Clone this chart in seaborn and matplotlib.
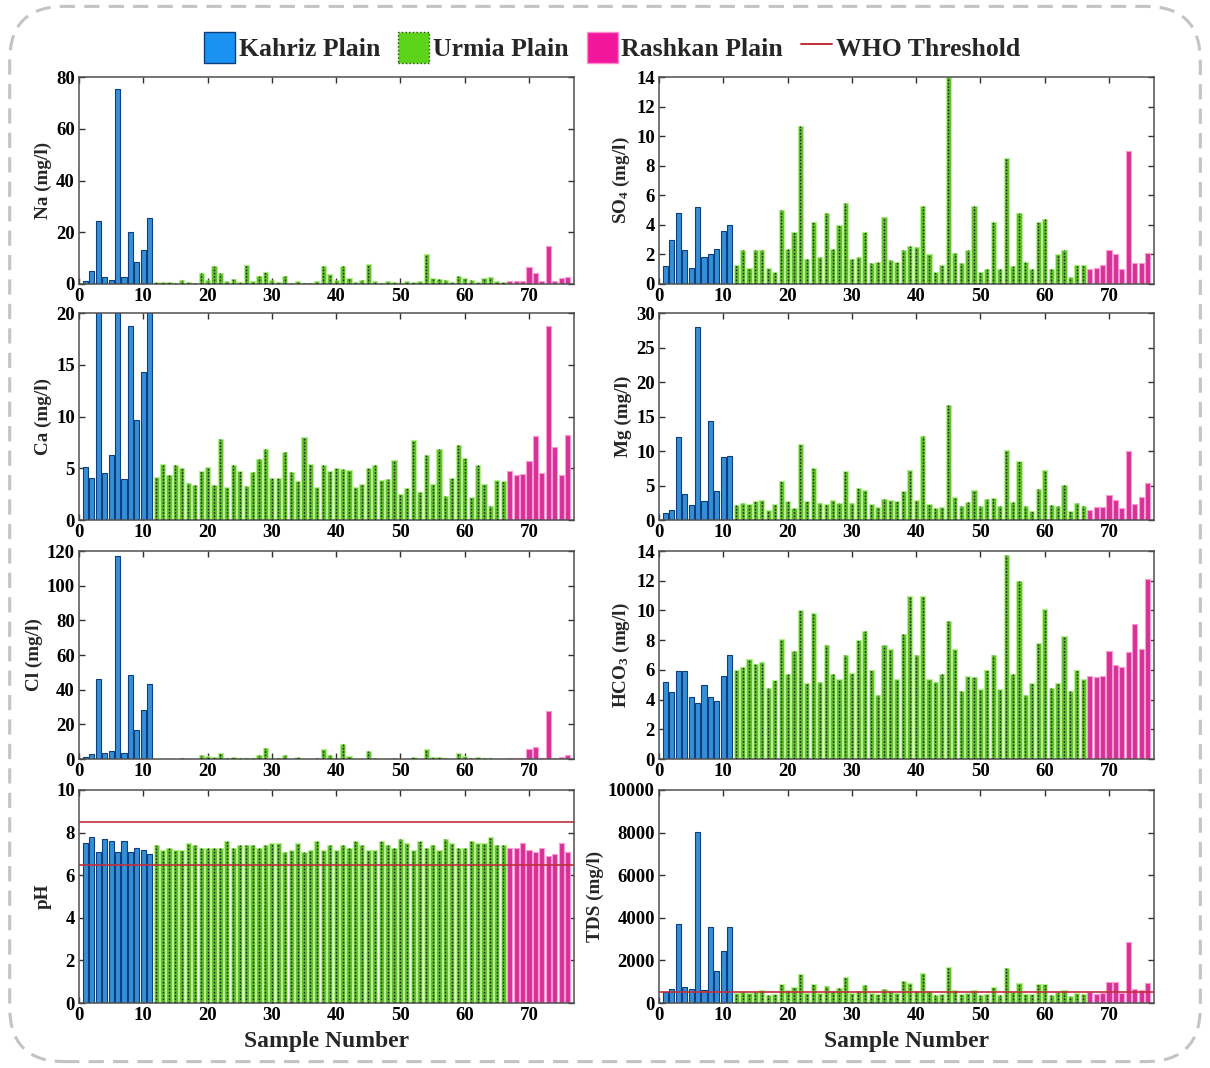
import matplotlib
matplotlib.use("Agg")
import matplotlib.pyplot as plt
import numpy as np
import pandas as pd
import seaborn as sns
from matplotlib.patches import Patch, FancyBboxPatch
from matplotlib.lines import Line2D

sns.set_style("ticks")
plt.rcParams["font.family"] = ["Liberation Serif", "DejaVu Serif"]
plt.rcParams["font.weight"] = "bold"
plt.rcParams["mathtext.fontset"] = "custom"
plt.rcParams["mathtext.rm"] = "Liberation Serif:bold"
plt.rcParams["mathtext.default"] = "rm"

# ---------------- data ----------------
samples = list(range(1, 77))
plain_names = ["Kahriz Plain", "Urmia Plain", "Rashkan Plain"]
plain_counts = [11, 55, 10]
plains = sum([[n] * c for n, c in zip(plain_names, plain_counts)], [])

na = [1.0, 5.0, 24.5, 2.8, 1.5, 75.5, 2.8, 20.0, 8.5, 13.2, 25.5,
      0.8, 0.8, 0.8, 0.5, 1.5, 0.8, 0.5, 4.3, 1.5, 7.0, 4.2, 1.0, 2.0, 0.6,
      7.5, 1.0, 3.2, 4.5, 1.5, 0.8, 3.2, 0.5, 1.0, 0.5, 0.5, 1.0, 7.0, 4.0,
      1.5, 6.8, 2.3, 0.8, 1.5, 7.7, 1.2, 0.3, 1.0, 0.8, 0.5, 1.0, 0.8, 1.3,
      11.5, 2.2, 2.0, 1.5, 0.8, 3.2, 2.3, 1.5, 0.8, 2.5, 2.6, 1.0, 0.8,
      1.3, 1.2, 1.2, 6.5, 4.3, 1.2, 14.5, 1.3, 2.3, 2.8]

so4 = [1.2, 3.0, 4.8, 2.3, 1.1, 5.2, 1.8, 2.0, 2.4, 3.6, 4.0,
       1.3, 2.3, 1.1, 2.3, 2.3, 1.1, 0.8, 5.0, 2.4, 3.5, 10.7, 1.7, 4.2, 1.8,
       4.8, 2.4, 4.0, 5.5, 1.7, 1.8, 3.5, 1.4, 1.5, 4.5, 1.6, 1.5, 2.3, 2.6,
       2.5, 5.3, 2.0, 0.8, 1.3, 14.0, 2.1, 1.4, 2.3, 5.3, 0.8, 1.0, 4.2, 1.0,
       8.5, 1.2, 4.8, 1.5, 1.0, 4.2, 4.4, 1.0, 2.0, 2.3, 0.5, 1.3, 1.3,
       1.0, 1.1, 1.3, 2.3, 2.0, 1.0, 9.0, 1.4, 1.4, 2.1]

ca = [5.1, 4.1, 30.0, 4.5, 6.3, 45.0, 4.0, 18.7, 9.7, 14.3, 25.0,
      4.2, 5.4, 4.3, 5.3, 5.0, 3.6, 3.4, 4.7, 5.1, 3.4, 7.8, 3.2, 5.3, 4.7,
      3.3, 4.6, 5.9, 6.9, 4.1, 4.1, 6.6, 4.6, 3.8, 8.0, 5.4, 3.2, 5.3, 4.7,
      5.0, 4.9, 4.8, 3.2, 3.5, 5.0, 5.3, 3.9, 4.0, 5.8, 2.5, 3.1, 7.7, 2.7,
      6.3, 3.5, 6.9, 2.3, 4.1, 7.2, 6.0, 2.2, 5.3, 3.5, 1.4, 3.9, 3.8,
      4.7, 4.3, 4.4, 5.7, 8.1, 4.5, 18.7, 7.1, 4.3, 8.2]

mg = [1.0, 1.4, 12.0, 3.8, 2.2, 28.0, 2.8, 14.3, 4.2, 9.2, 9.3,
      2.2, 2.5, 2.3, 2.7, 2.9, 1.5, 2.3, 5.6, 2.7, 1.7, 11.0, 2.7, 7.5, 2.4,
      2.3, 2.9, 2.4, 7.1, 2.4, 4.7, 4.4, 2.3, 1.9, 3.1, 2.9, 2.8, 4.2, 7.2,
      2.9, 12.2, 2.3, 1.8, 1.9, 16.6, 3.4, 2.1, 2.6, 4.4, 2.1, 3.1, 3.2, 2.1,
      10.1, 2.6, 8.5, 2.1, 1.3, 4.5, 7.2, 2.2, 2.1, 5.1, 1.3, 2.4, 2.0,
      1.4, 1.9, 1.9, 3.6, 2.9, 1.8, 10.0, 2.3, 3.4, 5.3]

cl = [1.0, 3.0, 46.0, 3.3, 4.7, 117.0, 3.2, 48.5, 16.5, 28.5, 43.5,
      0.2, 0.2, 0.2, 0.2, 0.8, 0.2, 0.2, 2.3, 1.8, 1.3, 3.3, 0.3, 1.2, 0.5,
      0.5, 0.5, 2.3, 6.5, 0.3, 0.3, 2.3, 0.2, 1.2, 0.2, 0.2, 0.3, 5.8, 2.3,
      0.8, 8.5, 1.8, 0.2, 0.2, 4.8, 0.4, 0.2, 0.2, 0.5, 0.2, 0.2, 1.3, 0.2,
      5.8, 1.3, 1.3, 0.3, 0.2, 3.3, 2.0, 0.3, 1.2, 0.6, 0.3, 0.2, 0.2,
      0.6, 0.5, 0.5, 6.0, 7.2, 0.5, 27.5, 0.4, 1.3, 2.2]

hco3 = [5.2, 4.5, 5.9, 5.9, 4.2, 3.8, 5.0, 4.2, 3.9, 5.6, 7.0,
        6.0, 6.2, 6.7, 6.4, 6.5, 4.8, 5.3, 8.1, 5.7, 7.3, 10.0, 5.1, 9.8, 5.2,
        7.7, 5.7, 5.4, 7.0, 5.8, 8.0, 8.6, 6.0, 4.3, 7.7, 7.4, 5.4, 8.4, 11.0,
        7.0, 11.0, 5.4, 5.2, 5.7, 9.3, 7.4, 4.6, 5.6, 5.5, 4.7, 6.0, 7.0, 4.7,
        13.7, 5.7, 12.0, 4.3, 5.1, 7.8, 10.1, 4.8, 5.1, 8.3, 4.6, 6.0, 5.4,
        5.6, 5.5, 5.6, 7.3, 6.3, 6.2, 7.2, 9.1, 7.4, 12.1]

ph = [7.5, 7.8, 7.1, 7.7, 7.6, 7.1, 7.6, 7.1, 7.3, 7.2, 7.0,
      7.4, 7.2, 7.3, 7.2, 7.2, 7.5, 7.4, 7.3, 7.3, 7.3, 7.3, 7.6, 7.3, 7.4,
      7.4, 7.4, 7.3, 7.4, 7.5, 7.5, 7.1, 7.2, 7.5, 7.1, 7.2, 7.6, 7.2, 7.4,
      7.2, 7.4, 7.3, 7.6, 7.4, 7.2, 7.2, 7.6, 7.4, 7.3, 7.7, 7.5, 7.2, 7.6,
      7.3, 7.4, 7.2, 7.7, 7.5, 7.3, 7.3, 7.6, 7.5, 7.5, 7.8, 7.4, 7.4,
      7.3, 7.3, 7.5, 7.2, 7.1, 7.3, 6.9, 7.0, 7.5, 7.1]

tds = [500, 680, 3700, 750, 650, 8050, 630, 3550, 1480, 2450, 3550,
       480, 530, 490, 510, 600, 370, 400, 880, 620, 770, 1370, 460, 900, 480,
       800, 540, 720, 1230, 450, 560, 850, 480, 440, 660, 540, 450, 1050, 960,
       560, 1400, 580, 370, 430, 1700, 600, 400, 470, 620, 370, 430, 760, 370,
       1650, 520, 950, 400, 400, 890, 870, 390, 520, 620, 350, 460, 420,
       500, 430, 470, 1000, 1000, 450, 2850, 680, 600, 950]

ph_limits = [6.5, 8.5]
tds_limit = [500]

x_ticks = [0, 10, 20, 30, 40, 50, 60, 70]

# ---------------- style ----------------
face = {"Kahriz Plain": "#1A92F2", "Urmia Plain": "#5CD41A", "Rashkan Plain": "#F2169C"}
edge = {"Kahriz Plain": "#0C3F80", "Urmia Plain": "#B4F28E", "Rashkan Plain": "#FF9AD2"}
who_color = "#C0303C"

fig = plt.figure(figsize=(12.1, 10.68), dpi=100)

# dashed rounded outer frame
frame = FancyBboxPatch((0.008, 0.006), 0.984, 0.988,
                       boxstyle="round,pad=0,rounding_size=0.045",
                       mutation_aspect=1210 / 1068,
                       transform=fig.transFigure, fill=False,
                       ec="#C4C4C4", lw=2.2, ls=(0, (5, 3)), zorder=0)
fig.patches.append(frame)

left_x = 79 / 1210
right_x = 659 / 1210
ax_w = 495 / 1210
rows = [(77, 284), (313, 520), (551, 759), (790, 1003)]

panels = [
    ("left", 0, na, "Na (mg/l)", (0, 80), [0, 20, 40, 60, 80], None),
    ("right", 0, so4, "SO$_4$ (mg/l)", (0, 14), list(range(0, 15, 2)), None),
    ("left", 1, ca, "Ca (mg/l)", (0, 20), [0, 5, 10, 15, 20], None),
    ("right", 1, mg, "Mg (mg/l)", (0, 30), [0, 5, 10, 15, 20, 25, 30], None),
    ("left", 2, cl, "Cl (mg/l)", (0, 120), [0, 20, 40, 60, 80, 100, 120], None),
    ("right", 2, hco3, "HCO$_3$ (mg/l)", (0, 14), list(range(0, 15, 2)), None),
    ("left", 3, ph, "pH", (0, 10), [0, 2, 4, 6, 8, 10], ph_limits),
    ("right", 3, tds, "TDS (mg/l)", (0, 10000), [0, 2000, 4000, 6000, 8000, 10000], tds_limit),
]

for col, r, vals, ylabel, ylim, yticks, who in panels:
    top, bot = rows[r]
    x0 = left_x if col == "left" else right_x
    ax = fig.add_axes([x0, 1 - bot / 1068, ax_w, (bot - top) / 1068])
    df = pd.DataFrame({"sample": samples, "value": vals, "plain": plains})
    sns.barplot(data=df, x="sample", y="value", hue="plain", hue_order=plain_names,
                palette=face, native_scale=True, dodge=False, width=0.8,
                errorbar=None, legend=False, ax=ax, zorder=2)
    for cont, name in zip(ax.containers, plain_names):
        for p in cont:
            p.set_edgecolor(edge[name])
            p.set_linewidth(0.8)
    # dotted center lines of Urmia bars
    g = df[df["plain"] == "Urmia Plain"]
    ax.vlines(g["sample"], 0, np.minimum(g["value"], ylim[1]), colors="#1a2a10",
              linestyles=(0, (1.2, 1.2)), linewidth=1.0, zorder=3)
    if who is not None:
        for w in who:
            ax.axhline(w, color=who_color, lw=1.2, zorder=4)
    ax.set_xlim(0, 77)
    ax.set_ylim(*ylim)
    ax.set_xticks(x_ticks)
    ax.set_xticklabels([str(t) for t in x_ticks])
    ax.set_yticks(yticks)
    ax.tick_params(direction="in", length=4, width=1, top=True, right=True,
                   labelsize=13.5, pad=3, colors="#303030", labelcolor="black")
    for lab in ax.get_xticklabels() + ax.get_yticklabels():
        lab.set_fontweight("bold")
    for s in ax.spines.values():
        s.set_color("#505050")
        s.set_linewidth(1.1)
    ax.set_ylabel(ylabel, fontsize=13.8, fontweight="bold", labelpad=3)
    if r == 3:
        ax.set_xlabel("Sample Number", fontsize=17, fontweight="bold", labelpad=5)
    else:
        ax.set_xlabel("")

handles = [
    Patch(fc=face["Kahriz Plain"], ec="#0A3E7C", lw=1.0),
    Patch(fc=face["Urmia Plain"], ec="#2a4a10", lw=1.0, ls=":"),
    Patch(fc=face["Rashkan Plain"], ec="#FF8CCB", lw=1.0),
    Line2D([], [], color=who_color, lw=1.4),
]
fig.legend(handles, ["Kahriz Plain", "Urmia Plain", "Rashkan Plain", "WHO Threshold"],
           loc="upper center", bbox_to_anchor=(0.506, 0.992), ncol=4, frameon=False,
           prop={"family": "Liberation Serif", "weight": "bold", "size": 18.5},
           handlelength=1.2, handleheight=1.5, handletextpad=0.15, columnspacing=0.7)

fig.savefig("out.png", dpi=100)
